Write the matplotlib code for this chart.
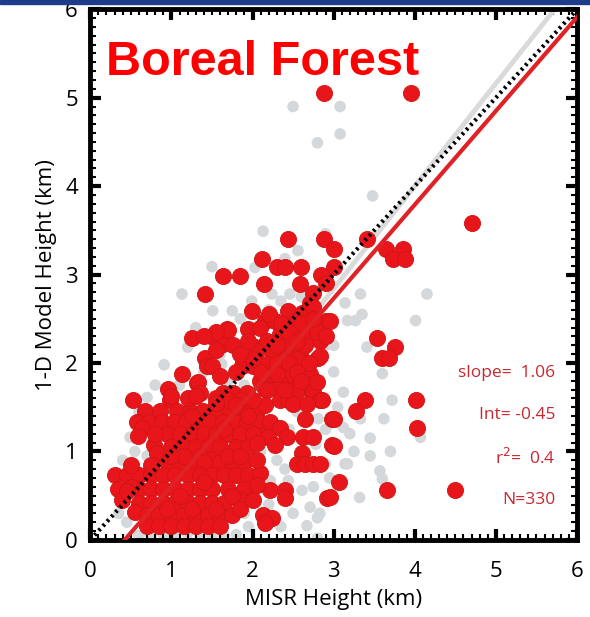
import numpy as np
import matplotlib.pyplot as plt
from matplotlib.patches import Rectangle

# MISR plume height vs 1-D plume model height, boreal forest fires
red_pts = [
    (2.88, 5.05), (3.95, 5.05), (4.70, 3.58),
    (2.44, 3.40), (2.88, 3.40), (3.41, 3.40),
    (3.64, 3.29), (3.86, 3.29), (3.73, 3.18), (3.88, 3.18), (3.00, 3.29),
    (2.12, 3.18), (2.30, 3.08), (2.40, 3.08), (2.60, 3.08), (3.00, 3.08), (2.85, 3.00),
    (1.63, 2.98), (1.85, 2.98), (2.14, 2.89), (2.59, 2.89), (2.90, 2.90), (1.41, 2.78), (2.75, 2.79),
    (2.71, 2.68), (1.99, 2.59), (2.44, 2.59), (2.61, 2.57), (2.75, 2.63),
    (2.15, 2.48), (2.28, 2.48), (2.53, 2.48), (2.90, 2.48), (2.96, 2.48),
    (1.68, 2.39), (1.95, 2.39), (2.09, 2.40), (2.65, 2.37), (2.34, 2.33), (2.50, 2.37),
    (1.25, 2.28), (1.51, 2.29), (1.64, 2.22), (1.76, 2.20), (1.70, 2.37), (2.03, 2.18),
    (2.18, 2.25), (2.67, 2.29), (2.83, 2.25), (3.54, 2.28),
    (2.06, 2.14), (2.25, 2.10), (2.43, 2.17), (2.59, 2.10), (3.76, 2.18), (3.60, 2.06), (3.68, 2.06),
    (1.41, 2.06), (1.44, 1.97), (1.50, 1.97), (1.87, 1.97), (1.88, 2.00), (2.01, 1.97),
    (2.18, 1.99), (2.34, 1.95), (2.55, 2.05), (2.81, 2.06), (2.83, 2.08),
    (1.13, 1.88), (2.71, 1.88), (2.20, 1.85), (2.45, 1.85),
    (1.31, 1.77), (1.33, 1.78), (0.96, 1.71), (2.09, 1.80), (2.34, 1.77), (2.32, 1.72), (2.15, 1.71),
    (1.35, 1.66), (1.64, 1.66), (1.76, 1.66), (1.93, 1.66), (2.18, 1.69), (2.50, 1.69),
    (2.71, 1.69), (2.53, 1.67), (2.75, 1.67),
    (0.53, 1.58), (0.98, 1.58), (2.34, 1.58), (2.44, 1.58), (2.83, 1.58), (2.86, 1.58),
    (3.39, 1.58), (4.01, 1.58),
    (0.67, 1.46), (0.86, 1.46), (1.07, 1.46), (1.23, 1.46), (1.39, 1.46), (1.56, 1.46),
    (1.72, 1.46), (1.88, 1.46), (2.06, 1.46), (2.15, 1.52), (2.50, 1.54), (2.67, 1.54), (3.27, 1.46),
    (0.57, 1.33), (0.72, 1.33), (0.88, 1.33), (1.03, 1.33), (1.18, 1.33), (1.33, 1.33),
    (1.48, 1.33), (1.63, 1.33), (1.78, 1.33), (1.93, 1.33), (2.08, 1.33), (2.22, 1.33),
    (2.65, 1.37), (2.98, 1.37), (3.00, 1.37),
    (0.64, 1.27), (2.34, 1.27), (4.03, 1.27),
    (0.59, 1.18), (0.95, 1.20), (1.10, 1.20), (1.25, 1.20), (1.40, 1.20), (1.55, 1.20),
    (1.70, 1.20), (1.85, 1.20), (2.12, 1.18), (2.19, 1.16), (2.43, 1.16), (2.62, 1.16), (2.75, 1.16),
    (0.78, 1.07), (1.00, 1.05), (1.15, 1.05), (1.30, 1.05), (1.45, 1.05), (1.80, 1.05),
    (1.95, 1.05), (2.28, 1.07), (2.98, 1.07), (3.00, 1.06),
    (0.82, 0.98), (1.35, 0.95), (1.50, 0.92), (2.61, 0.98),
    (0.95, 0.88), (1.10, 0.88), (1.25, 0.88), (1.40, 0.88), (1.60, 0.88), (1.75, 0.88),
    (1.90, 0.88), (2.55, 0.86), (2.65, 0.86), (2.75, 0.86), (2.83, 0.86),
    (0.30, 0.73), (0.45, 0.73), (0.60, 0.73), (0.75, 0.73), (0.90, 0.73), (1.05, 0.73),
    (1.20, 0.73), (1.35, 0.73), (1.50, 0.73), (1.65, 0.73), (1.80, 0.73), (1.95, 0.73), (2.09, 0.76),
    (0.34, 0.58), (0.60, 0.58), (0.75, 0.58), (0.90, 0.58), (1.05, 0.58), (1.20, 0.58),
    (1.35, 0.58), (1.50, 0.58), (1.70, 0.58), (1.90, 0.58), (2.22, 0.56), (2.40, 0.56),
    (3.06, 0.65), (3.66, 0.56), (4.50, 0.56),
    (0.39, 0.45), (0.60, 0.42), (0.75, 0.42), (0.90, 0.42), (1.05, 0.42), (1.20, 0.42),
    (1.35, 0.42), (1.50, 0.42), (1.65, 0.42), (1.85, 0.45), (2.00, 0.45), (2.40, 0.47),
    (2.92, 0.47), (2.96, 0.48),
    (0.55, 0.31), (0.70, 0.28), (0.85, 0.28), (1.00, 0.28), (1.15, 0.28), (1.30, 0.28),
    (1.45, 0.28), (1.60, 0.28), (1.75, 0.28), (2.13, 0.28), (2.24, 0.25),
    (0.70, 0.16), (0.85, 0.16), (1.00, 0.16), (1.15, 0.16), (1.30, 0.16), (1.45, 0.16),
    (1.60, 0.16), (2.15, 0.19),
    (1.55, 1.60), (1.20, 1.60), (1.70, 1.58), (1.85, 1.58), (2.00, 1.58),
    (2.00, 2.05), (2.30, 2.00), (2.45, 2.00), (2.70, 2.00), (2.10, 1.90), (2.30, 1.88),
    (2.55, 1.90), (2.60, 1.80), (2.80, 1.78), (2.40, 1.70), (2.65, 2.20), (2.80, 2.35),
    (2.40, 2.25), (2.30, 2.20), (1.30, 1.63), (1.00, 1.63),
    (1.60, 1.05), (1.70, 0.95), (1.15, 0.95), (1.00, 0.95), (1.85, 0.95), (2.00, 1.20),
    (2.05, 0.90), (1.55, 1.55), (1.80, 1.52), (0.80, 1.20), (0.75, 0.85), (0.50, 0.85),
    (0.50, 0.60), (0.45, 0.55), (1.55, 2.15), (1.60, 1.85), (1.80, 1.90), (1.85, 2.10),
    (1.95, 2.25), (1.55, 2.35), (1.40, 2.30), (2.20, 2.55), (2.35, 2.45), (2.60, 2.45),
    (2.75, 2.50), (2.45, 2.35), (2.90, 2.30), (2.55, 2.25), (1.25, 1.40), (1.65, 1.25),
    (1.95, 1.40), (2.05, 1.10), (1.40, 0.65), (1.75, 0.50), (1.10, 0.50), (0.95, 0.35),
    (1.25, 0.35), (1.55, 0.35), (1.85, 0.35), (2.05, 0.62),
]

grey_pts = [
    (2.50, 4.90), (3.08, 4.90), (3.08, 4.59), (2.80, 4.49), (3.48, 3.89), (2.13, 3.49), (2.90, 3.46),
    (2.56, 3.27), (2.40, 3.18), (1.50, 3.09), (2.03, 3.08), (1.13, 2.78), (2.46, 2.78), (2.24, 2.78),
    (3.33, 2.78), (3.14, 2.68), (4.15, 2.78), (1.99, 2.70),
    (1.51, 2.59), (1.75, 2.59), (3.17, 2.48), (3.27, 2.48), (4.01, 2.48), (3.41, 2.18), (3.00, 2.20),
    (1.20, 2.18), (0.91, 1.98), (1.62, 1.99), (3.60, 1.88), (3.12, 1.67), (0.70, 1.61), (3.72, 1.58),
    (3.62, 1.37), (3.33, 1.37), (2.81, 1.37), (3.12, 1.27), (0.49, 1.16), (4.07, 1.16), (2.78, 1.08),
    (3.14, 0.86), (2.90, 0.86), (3.17, 0.86), (3.57, 0.78), (3.60, 0.69), (2.22, 0.67), (2.44, 0.67),
    (2.61, 0.56), (3.32, 0.48), (2.71, 0.37), (2.83, 0.30), (2.80, 0.25), (2.67, 0.16),
    (0.60, 0.05), (0.75, 0.05), (0.90, 0.06), (1.05, 0.06), (1.20, 0.07), (1.35, 0.06),
    (1.50, 0.05), (1.65, 0.05), (1.80, 0.06), (1.95, 0.15), (2.80, 0.02),
    (0.40, 0.90), (0.55, 1.00), (0.70, 0.95), (1.20, 1.00), (1.65, 1.10), (1.90, 1.15),
    (2.10, 1.00), (2.30, 0.90), (2.40, 0.80), (2.00, 0.60), (2.20, 0.40), (2.50, 0.30),
    (2.35, 0.15), (1.90, 0.30), (0.45, 0.20), (0.35, 0.30), (0.60, 1.45), (0.80, 1.75),
    (1.10, 1.75), (1.40, 1.90), (1.70, 1.80), (1.90, 1.75), (1.60, 2.10), (1.80, 2.20),
    (1.30, 2.40), (1.85, 2.50), (2.20, 2.60), (2.35, 2.70), (2.60, 2.75), (2.90, 2.20),
    (3.00, 1.90), (3.05, 1.50), (3.20, 1.20), (3.25, 1.00), (2.95, 0.70), (2.75, 0.60),
    (3.45, 1.15), (3.45, 0.95), (3.70, 1.00), (3.35, 2.55), (2.45, 1.25), (2.55, 1.45), (2.90, 1.25),
]

red_fit = (1.06, -0.45)    # slope, intercept
grey_fit = (1.16, -0.64)
stats = ['slope=  1.06', 'Int= -0.45', 'r$^2$=  0.4', 'N=330']
stats_y = [1.89, 1.41, 0.93, 0.45]

red_x, red_y = np.array(red_pts).T
grey_x, grey_y = np.array(grey_pts).T

plt.rcParams['font.family'] = ['Open Sans', 'DejaVu Sans']

fig = plt.figure(figsize=(5.9, 6.17), dpi=100)
fig.patches.append(Rectangle((0, 0.994), 1, 0.006, transform=fig.transFigure,
                             color='#1f3b8c', zorder=10))
ax = fig.add_axes([0.153, 0.125, 0.825, 0.86])

ax.scatter(grey_x, grey_y, s=70, color='#d5d8da', edgecolors='none', zorder=1)
xx = np.array([0, 6])
ax.plot(xx, grey_fit[0] * xx + grey_fit[1], color='#dadada', lw=3.5, zorder=2,
        solid_capstyle='butt')
ax.scatter(red_x, red_y, s=135, color='#e8161a', edgecolors='#d01414',
           linewidths=0.6, zorder=3)
ax.plot(xx, xx, color='black', lw=3, ls=(0, (0.6, 0.9)), zorder=4)
ax.plot(xx, red_fit[0] * xx + red_fit[1], color='#e02226', lw=3, zorder=5)

ax.text(0.2, 5.40, 'Boreal Forest', color='#ff0000', fontsize=35,
        fontweight='bold', family='Liberation Sans', va='center', zorder=6)
for s, y in zip(stats, stats_y):
    ax.text(5.73, y, s, color='#c8282d', fontsize=12.5, ha='right', va='center',
            zorder=6)

ax.set_xlim(0, 6)
ax.set_ylim(0, 6)
ax.set_xticks(range(7))
ax.set_yticks(range(7))
ax.minorticks_on()
ax.xaxis.set_minor_locator(plt.MultipleLocator(0.1))
ax.yaxis.set_minor_locator(plt.MultipleLocator(0.1))
ax.tick_params(which='major', direction='in', length=8, width=3,
               top=True, right=True, labelsize=16)
ax.tick_params(axis='x', which='major', pad=15)
ax.tick_params(axis='y', which='major', pad=9)
ax.tick_params(which='minor', direction='in', length=4, width=1.5,
               top=True, right=True)
for sp in ax.spines.values():
    sp.set_linewidth(3.5)

ax.set_xlabel('MISR Height (km)', fontsize=16, labelpad=5)
ax.set_ylabel('1-D Model Height (km)', fontsize=16, labelpad=6)

fig.savefig('out.png')
